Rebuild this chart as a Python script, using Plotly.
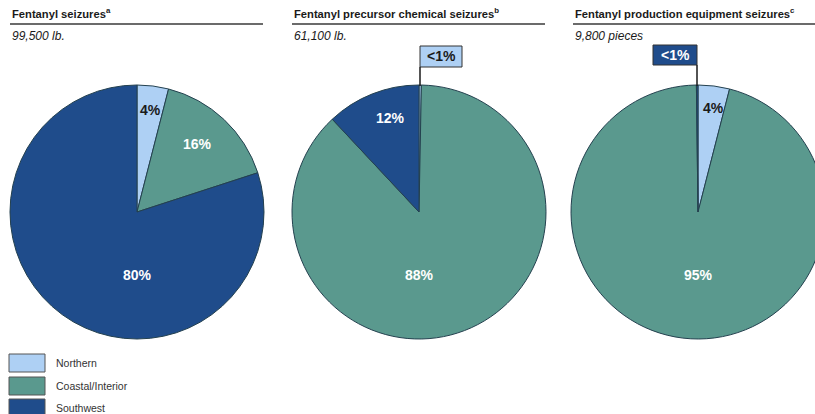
import plotly.graph_objects as go

# ---- data ----
regions = ["Northern", "Coastal/Interior", "Southwest"]
colors = ["#aed0f4", "#5a998e", "#1f4c8b"]

titles = ["Fentanyl seizures", "Fentanyl precursor chemical seizures",
          "Fentanyl production equipment seizures"]
title_notes = ["a", "b", "c"]
totals = ["99,500 lb.", "61,100 lb.", "9,800 pieces"]

seizures_values = [4, 16, 80]
precursor_values = [0.3, 88, 12]
equipment_values = [4, 95.8, 0.2]

seizures_labels = ["4%", "16%", "80%"]
precursor_labels = ["<1%", "88%", "12%"]
equipment_labels = ["4%", "95%", "<1%"]

# ---- layout helpers ----
W, H = 828, 414


def px(x):
    return x / W


def py(y):
    return 1 - y / H


fig = go.Figure()

pie_values = [seizures_values, precursor_values, equipment_values]
pie_x = [(10, 264), (292, 546), (571, 825)]
pie_y = (85, 339)
for vals, (x0, x1) in zip(pie_values, pie_x):
    fig.add_trace(go.Pie(
        labels=regions, values=vals, sort=False, direction="clockwise",
        rotation=0, textinfo="none", hoverinfo="label+percent",
        marker=dict(colors=colors, line=dict(color="#24414f", width=1)),
        domain=dict(x=[px(x0), px(x1)], y=[py(pie_y[1]), py(pie_y[0])]),
        showlegend=False,
    ))

FONT = "Liberation Sans, Arial, sans-serif"
ann = []
shapes = []

# headers
title_x = [(10, 263), (292, 545), (573, 815)]
for t, n, tot, (x0, x1) in zip(titles, title_notes, totals, title_x):
    ann.append(dict(x=px(x0), y=py(13), xref="paper", yref="paper",
                    xanchor="left", yanchor="middle", showarrow=False,
                    text=f"<b>{t}<sup>{n}</sup></b>",
                    font=dict(family=FONT, size=11.2, color="#1a1a1a")))
    ann.append(dict(x=px(x0), y=py(36), xref="paper", yref="paper",
                    xanchor="left", yanchor="middle", showarrow=False,
                    text=f"<i>{tot}</i>",
                    font=dict(family=FONT, size=12, color="#1a1a1a")))
    shapes.append(dict(type="line", xref="paper", yref="paper",
                       x0=px(x0), x1=px(x1), y0=py(24), y1=py(24),
                       line=dict(color="#3a3a3a", width=1.6)))

# slice labels
DARK = "#1a1a1a"
WHITE = "#ffffff"
inside = [
    (seizures_labels[0], 150, 110, DARK),
    (seizures_labels[1], 197, 144, WHITE),
    (seizures_labels[2], 137, 275, WHITE),
    (precursor_labels[2], 390, 118, WHITE),
    (precursor_labels[1], 419, 275, WHITE),
    (equipment_labels[0], 713, 108, DARK),
    (equipment_labels[1], 698, 275, WHITE),
]
for txt, x, y, c in inside:
    ann.append(dict(x=px(x), y=py(y), xref="paper", yref="paper",
                    xanchor="center", yanchor="middle", showarrow=False,
                    text=f"<b>{txt}</b>",
                    font=dict(family=FONT, size=14, color=c)))

# callout boxes for <1% slices
callouts = [
    (precursor_labels[0], 420, 462, 46, 67, colors[0], DARK, 420),
    (equipment_labels[2], 653, 697, 45, 65, colors[2], WHITE, 697),
]
for txt, x0, x1, y0, y1, bg, fc, lx in callouts:
    shapes.append(dict(type="rect", xref="paper", yref="paper",
                       x0=px(x0), x1=px(x1), y0=py(y1), y1=py(y0),
                       fillcolor=bg, line=dict(color="#333333", width=1)))
    shapes.append(dict(type="line", xref="paper", yref="paper",
                       x0=px(lx), x1=px(lx), y0=py(y1), y1=py(86),
                       line=dict(color="#1a1a1a", width=1.5)))
    ann.append(dict(x=px((x0 + x1) / 2), y=py((y0 + y1) / 2), xref="paper",
                    yref="paper", xanchor="center", yanchor="middle",
                    showarrow=False, text=f"<b>{txt}</b>",
                    font=dict(family=FONT, size=14, color=fc)))

# legend
leg_y = [(354, 372), (377, 395), (399, 417)]
for name, col, (y0, y1) in zip(regions, colors, leg_y):
    shapes.append(dict(type="rect", xref="paper", yref="paper",
                       x0=px(9), x1=px(45), y0=py(y1), y1=py(y0),
                       fillcolor=col, line=dict(color="#555555", width=1)))
    ann.append(dict(x=px(54), y=py((y0 + y1) / 2), xref="paper",
                    yref="paper", xanchor="left", yanchor="middle",
                    showarrow=False, text=name,
                    font=dict(family=FONT, size=10.5, color="#333333")))

fig.update_layout(
    width=W, height=H, autosize=False,
    margin=dict(l=0, r=0, t=0, b=0),
    paper_bgcolor="white", plot_bgcolor="white",
    annotations=ann, shapes=shapes,
)

fig.write_html(
    "out.html",
    config={"displayModeBar": False},
    post_script="document.body.style.margin='0';document.body.style.overflow='hidden';",
)
